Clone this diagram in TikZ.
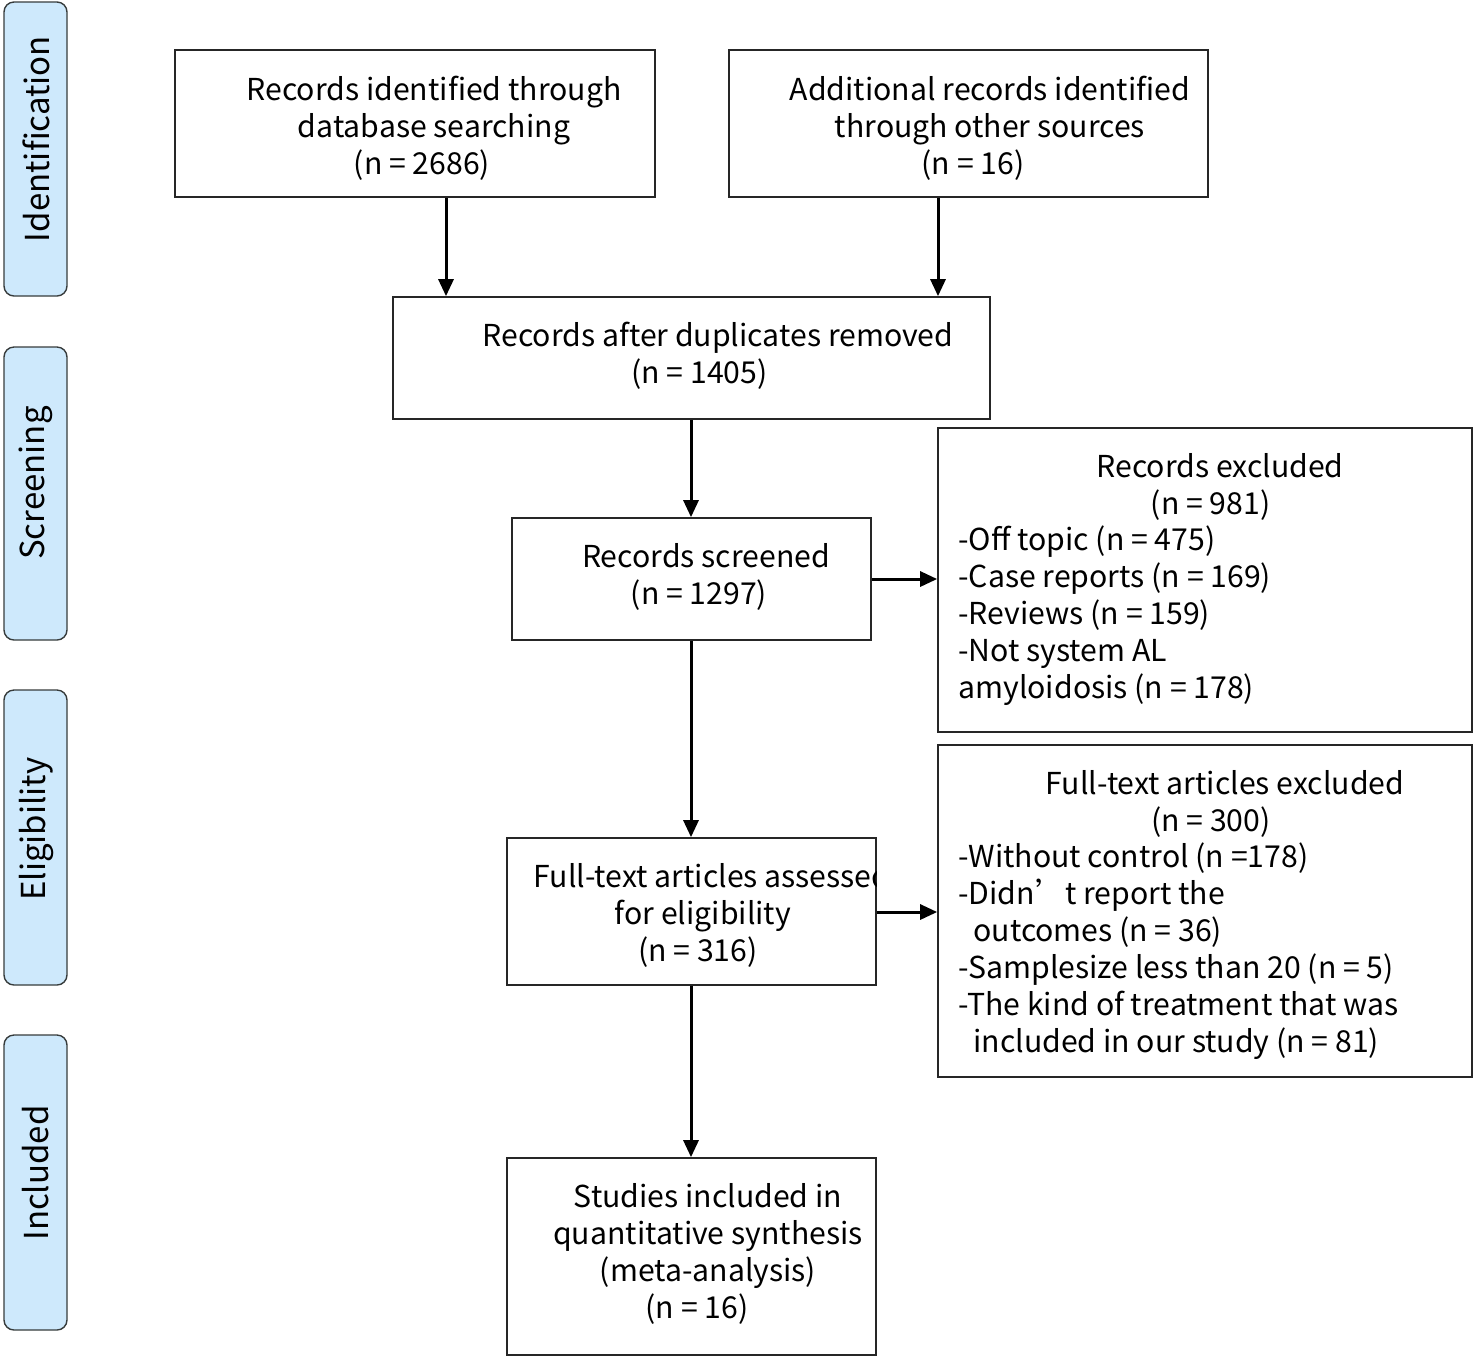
\documentclass[tikz,border=0pt]{standalone}
\usepackage{fontspec}
\setmainfont{Noto Sans CJK SC}
\usetikzlibrary{arrows.meta,fit}
\definecolor{sidefill}{RGB}{206,233,252}
\definecolor{sideline}{RGB}{55,60,60}
\newcommand\figfont{\fontsize{15.1}{18.5}\selectfont}
\newcommand\sidefont{\fontsize{16.5}{18.5}\selectfont}
\newcommand\trail[1]{\hspace*{#1pt}}
\tikzset{
  box/.style={draw=black!85, line width=0.85pt, inner sep=0pt},
  side/.style={draw=sideline, fill=sidefill, rounded corners=5pt, line width=0.7pt, inner sep=0pt},
  txt/.style={align=center, font=\figfont, inner sep=0pt},
  sidetxt/.style={font=\sidefont, inner sep=0pt, rotate=90},
  ltxt/.style={align=left, font=\figfont, inner sep=0pt, anchor=west},
  arr/.style={line width=1.5pt, -{Triangle[length=8.5pt,width=7.5pt]}}
}
\begin{document}
\begin{tikzpicture}[x=0.5pt,y=-0.5pt]
\useasboundingbox (0,0) rectangle (1476,1357);
% side labels
\node[side, fit={(4,2) (67,296)}] (sid) {};
\node[side, fit={(4,347) (67,640)}] (ssc) {};
\node[side, fit={(4,690) (67,985)}] (sel) {};
\node[side, fit={(4,1035) (67,1330)}] (sin) {};
\node[sidetxt] (lid) at (36,139) {Identification};
\node[sidetxt] (lsc) at (36,483) {Screening};
\node[sidetxt] (lel) at (36,829) {Eligibility};
\node[sidetxt] (lin) at (36,1173) {Included};
% boxes
\node[box, fit={(175,50) (655,197)}] (A) {};
\node[box, fit={(729,50) (1208,197)}] (B) {};
\node[box, fit={(393,297) (990,419)}] (C) {};
\node[box, fit={(512,518) (871,640)}] (D) {};
\node[box, fit={(938,428) (1472,732)}] (E) {};
\node[box, fit={(507,838) (876,985)}] (F) {};
\node[box, fit={(938,745) (1472,1077)}] (G) {};
\node[box, fit={(507,1158) (876,1355)}] (H) {};
% texts
\node[txt] (tA) at (434,128) {Records identified through\\database searching\\(n = 2686)\trail{12}};
\node[txt] (tB) at (990,128) {Additional records identified\\through other sources\\(n = 16)\trail{17}};
\node[txt] (tC) at (718,356) {Records after duplicates removed\\(n = 1405)\trail{18.5}};
\node[txt] (tD) at (706,577) {Records screened\\(n = 1297)\trail{7}};
\node[txt] (tE1) at (1220,487) {Records excluded\\(n = 981)\trail{9.5}};
\node[ltxt] (tE2) at (958,616) {-Off topic (n = 475)\\-Case reports (n = 169)\\-Reviews (n = 159)\\-Not system AL\\amyloidosis (n = 178)};
\begin{scope}
\clip (F.south west) rectangle (F.north east);
\node[txt] (tF) at (703,915) {\hspace*{9pt}Full-text articles assessed\\for eligibility\\(n = 316)\trail{5}};
\end{scope}
\node[txt] (tG1) at (1225,804) {Full-text articles excluded\\(n = 300)\trail{14}};
\node[ltxt] (tG2) at (958,951) {-Without control (n =178)\\-Didn’t report the\\\hspace*{7.5pt}outcomes (n = 36)\\-Samplesize less than 20 (n = 5)\\-The kind of treatment that was\\\hspace*{7.5pt}included in our study (n = 81)};
\node[txt] (tH) at (708,1254) {Studies included in\\quantitative synthesis\\(meta-analysis)\\(n = 16)\trail{11}};
% arrows
\draw[arr] (A.south -| 446,0) -- (C.north -| 446,0);
\draw[arr] (B.south -| 938,0) -- (C.north -| 938,0);
\draw[arr] (C.south -| 691,0) -- (D.north -| 691,0);
\draw[arr] (D.east |- 0,579) -- (E.west |- 0,579);
\draw[arr] (D.south -| 691,0) -- (F.north -| 691,0);
\draw[arr] (F.east |- 0,912) -- (G.west |- 0,912);
\draw[arr] (F.south -| 691,0) -- (H.north -| 691,0);
\end{tikzpicture}
\end{document}
